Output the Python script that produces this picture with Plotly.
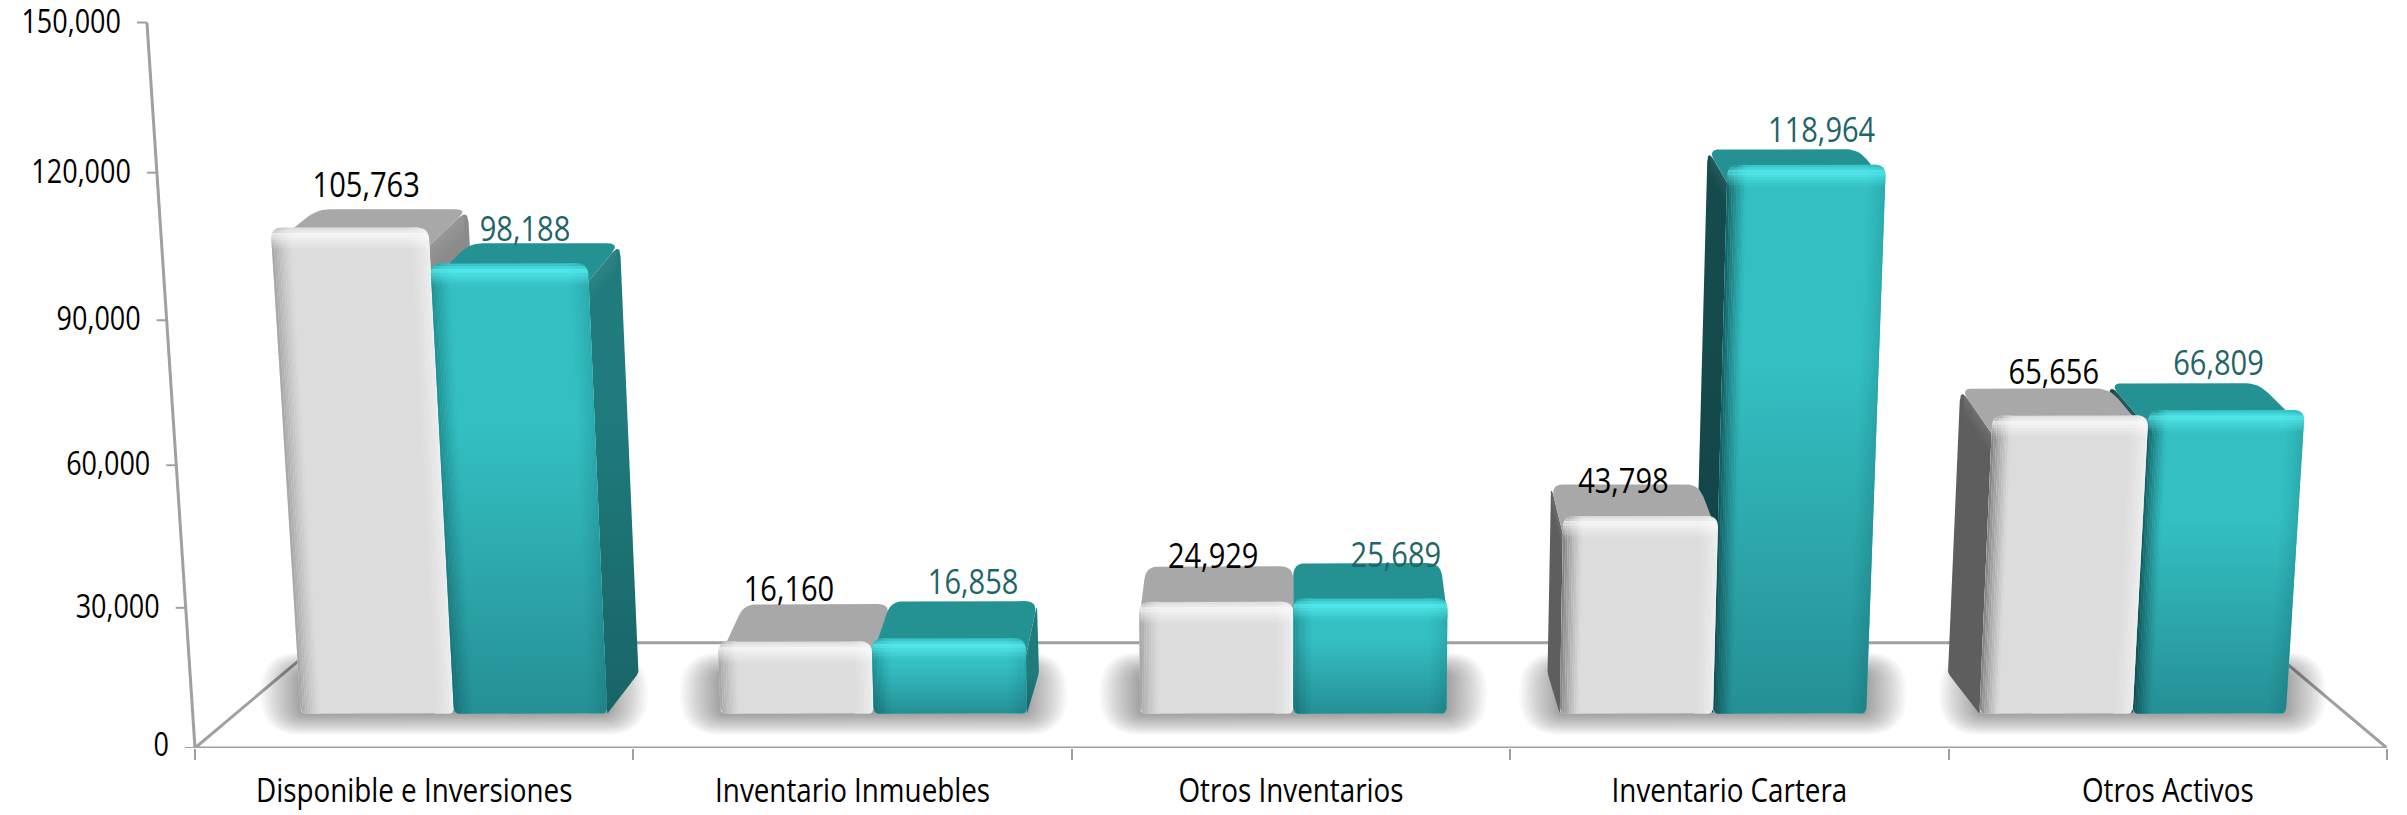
import math
import plotly.graph_objects as go

# ---------- data ----------
categories = ["Disponible e Inversiones", "Inventario Inmuebles", "Otros Inventarios",
              "Inventario Cartera", "Otros Activos"]
series_a = [105763, 16160, 24929, 43798, 65656]
series_b = [98188, 16858, 25689, 118964, 66809]
y_ticks = [0, 30000, 60000, 90000, 120000, 150000]
# label nudges (px) relative to each bar's top
lift_a = [30, 31, 25, 16, 27]
lift_b = [21, 34, 22, 24, 30]
nudge_a = [3, -12, -2, -9, -1]
nudge_b = [5, 21, 29, 26, 10]

# ---------- 3D projection ----------
FONT = "Open Sans, sans-serif"
VMAX = 150000
U, X0PX, Y0PX = 438.4, 195.0, 748.0
CX, VY = 1291.0, -175.0
C, A = 0.042, 695.0
SF, SB = 0.963, 0.919
AXIS = "#a0a0a0"


def P(X, s, V):
    t = V / VMAX
    k = 1 / (1 - C * t)
    x0 = CX + (X - 2.5) * U * k
    y0 = Y0PX - A * t * k
    return (CX + (x0 - CX) * s, VY + (y0 - VY) * s)


def B(X, s, V):
    """Same projection for bars, which sit slightly inside the floor."""
    return P(2.5 + (X - 2.5) * 0.994 + 0.0055, s, V)


def xd(px):
    return (px - X0PX) / U


def yd(py):
    return (Y0PX - py) * VMAX / 726.0


def lerp(a, b, f):
    return (a[0] + (b[0] - a[0]) * f, a[1] + (b[1] - a[1]) * f)


def hex2(c):
    c = c.lstrip("#")
    return tuple(int(c[i:i + 2], 16) for i in (0, 2, 4))


def mix(c1, c2, f):
    a, b = hex2(c1), hex2(c2)
    return "rgb(%d,%d,%d)" % tuple(round(a[i] + (b[i] - a[i]) * f) for i in range(3))


def rounded(pts, radii):
    out = []
    n = len(pts)
    for i, p in enumerate(pts):
        r = radii[i] if isinstance(radii, (list, tuple)) else radii
        a, b = pts[i - 1], pts[(i + 1) % n]
        la = math.dist(p, a) or 1
        lb = math.dist(p, b) or 1
        ra = min(r, la / 2) / la
        rb = min(r, lb / 2) / lb
        s, e = lerp(p, a, ra), lerp(p, b, rb)
        for j in range(7):
            f = j / 6
            q = lerp(lerp(s, p, f), lerp(p, e, f), f)
            out.append(q)
    return out


fig = go.Figure()


def poly(pts, color=None, grad=None):
    kw = dict(fillcolor=color) if grad is None else dict(fillgradient=grad)
    fig.add_trace(go.Scatter(
        x=[xd(p[0]) for p in pts] + [xd(pts[0][0])],
        y=[yd(p[1]) for p in pts] + [yd(pts[0][1])],
        mode="lines", line=dict(width=0), fill="toself", hoverinfo="skip",
        showlegend=False, **kw))


def inset(d, r):
    return r - math.sqrt(max(r * r - (r - d) ** 2, 0)) if d < r else 0


def draw_front(a, b, c, d, edge_l, edge_r, mid, bright, dark_alpha):
    W, H = math.dist(a, b), math.dist(a, d)

    def F(u, v):
        return lerp(lerp(a, b, u), lerp(d, c, u), v)
    rt, rb = 11, 6
    poly(rounded([a, b, c, d], [rb, rb, rt, rt]), mid)
    bw, n = 19.0, 8
    for side, edge in ((0, edge_l), (1, edge_r)):
        for i in range(n):
            d0, d1 = i * bw / n, (i + 1) * bw / n
            col = mix(edge, mid, ((i + .5) / n) ** 0.8)
            u0, u1 = d0 / W, d1 / W
            if side:
                u0, u1 = 1 - u0, 1 - u1
            poly([F(u0, inset(d0, rb) / H), F(u1, inset(d1, rb) / H),
                  F(u1, 1 - inset(d1, rt) / H), F(u0, 1 - inset(d0, rt) / H)], col)
    # bright band along the top edge
    bt, m = 23.0, 9
    r, g, bl = hex2(bright)
    for i in range(m):
        d0, d1 = i * bt / m, (i + 1) * bt / m
        f = (i + .5) / m
        alpha = 0.74 * (f / 0.3 if f < 0.3 else (1 - f) / 0.7) ** 1.1
        ul0 = inset(d0, rt) / W
        ul1 = inset(d1, rt) / W
        poly([F(ul1, 1 - d1 / H), F(1 - ul1, 1 - d1 / H), F(1 - ul0, 1 - d0 / H), F(ul0, 1 - d0 / H)],
             "rgba(%d,%d,%d,%.3f)" % (r, g, bl, alpha))
    if dark_alpha:
        top, bot = (c[1] + d[1]) / 2, (a[1] + b[1]) / 2
        poly(rounded([a, b, c, d], [rb, rb, rt, rt]), grad=dict(
            type="vertical", start=yd(bot), stop=yd(top),
            colorscale=[[0, "rgba(0,30,40,%.2f)" % dark_alpha], [0.65, "rgba(0,30,40,0)"], [1, "rgba(0,30,40,0)"]]))


def draw_bar(X0, X1, V, pal, cat):
    fa, fb, fc, fd = B(X0, SF, 0), B(X1, SF, 0), B(X1, SF, V), B(X0, SF, V)
    ba, bb, bc, bd = B(X0, SB, 0), B(X1, SB, 0), B(X1, SB, V), B(X0, SB, V)
    # side face: it runs under the front face, so its rounded corner leaves no notch
    Hf = math.dist(fa, fd)
    low = min(18 / Hf, 0.5)
    if X1 < 2.5 - 1e-6:
        side_pts, sc = [fb, bb, bc, lerp(fc, fb, low)], pal["side_r"]
    elif X0 > 2.5 + 1e-6:
        side_pts, sc = [fa, ba, bd, lerp(fd, fa, low)], pal["side_l"]
    else:
        side_pts = None
    if side_pts:
        shape = rounded(side_pts, [2, 3, 13, 0])
        poly(shape, sc)
        p0, p1, p2, p3 = side_pts
        n = 6
        H = math.dist(p0, p2)
        for i in range(n):
            f0, f1 = i / n, (i + 1) / n
            h0, h1 = min(f0 * 24 / H, .5), min(f1 * 24 / H, .5)
            q = [lerp(p3, p0, h0), lerp(lerp(p2, p3, 0.12), lerp(p1, p0, 0.12), h0),
                 lerp(lerp(p2, p3, 0.12), lerp(p1, p0, 0.12), h1), lerp(p3, p0, h1)]
            poly(q, "rgba(255,255,255,%.3f)" % (pal["side_glow"] * (1 - f0)))
        if pal["dark"]:
            poly(shape, grad=dict(
                type="vertical", start=yd(p0[1]), stop=yd(p3[1]),
                colorscale=[[0, "rgba(0,20,30,0.22)"], [0.7, "rgba(0,20,30,0)"], [1, "rgba(0,20,30,0)"]]))
    # top face, also running under the front face
    poly(rounded([lerp(fd, fa, low), lerp(fc, fb, low), bc, bd], [0, 0, 13, 13]), pal["top"])
    # front face
    el = pal["edge_far_l"] if cat >= 3 else pal["edge_l"]
    draw_front(fa, fb, fc, fd, el, pal["edge_r"], pal["mid"], pal["bright"], pal["dark"])


pal_a = dict(mid="#dcdcdc", top="#a8a8a8", side_r="#8b8b8b", side_l="#5e5e5e", side_glow=0.10,
             edge_l="#a2a2a2", edge_far_l="#7d7d7d", edge_r="#f0f0f0", bright="#ffffff", dark=0)
pal_b = dict(mid="#34c0c3", top="#249193", side_r="#1f7b7c", side_l="#154b4d", side_glow=0.07,
             edge_l="#1f8d90", edge_far_l="#15595c", edge_r="#2aa8ab", bright="#5ff8fb", dark=0.30)

# floor outline behind the bars, front edge included
bl, br = P(0, 0.886, 0), P(5, 0.886, 0)
fl, fr = P(0, 1, 0), P(5, 1, 0)
fig.add_trace(go.Scatter(
    x=[xd(fl[0]), xd(bl[0]), xd(br[0]), xd(fr[0]), xd(fl[0])],
    y=[yd(fl[1]), yd(bl[1]), yd(br[1]), yd(fr[1]), yd(fl[1])],
    mode="lines", line=dict(color=AXIS, width=3), hoverinfo="skip", showlegend=False))

# value axis (slanted by the projection)
ax_x, ax_y = [], []
for v in y_ticks:
    p = P(0, 1, v)
    ax_x += [xd(p[0] - 10), xd(p[0]), None]
    ax_y += [yd(p[1]), yd(p[1]), None]
top = P(0, 1, VMAX)
fig.add_trace(go.Scatter(x=[xd(fl[0]), xd(top[0])], y=[yd(fl[1]), yd(top[1])], mode="lines",
                         line=dict(color=AXIS, width=3), hoverinfo="skip", showlegend=False))
fig.add_trace(go.Scatter(x=ax_x, y=ax_y, mode="lines", line=dict(color=AXIS, width=2),
                         hoverinfo="skip", showlegend=False))
fig.add_trace(go.Scatter(
    x=[xd(P(0, 1, v)[0] - 26) for v in y_ticks],
    y=[yd(P(0, 1, v)[1] + (2 if v else 0)) for v in y_ticks],
    mode="text", text=[f"{v:,}" for v in y_ticks], textposition="middle left", cliponaxis=False,
    textfont=dict(family=FONT, size=32.5, color="#000000"), hoverinfo="skip", showlegend=False))

# soft shadows on the floor
for k in range(5):
    l, r = B(k + 0.135, SF, 0)[0], B(k + 0.865, SF, 0)[0]
    t, b = B(k + .5, SB, 0)[1], B(k + .5, SF, 0)[1]
    for e in range(34, 0, -2):
        ex, ey = e * 1.2, e * 0.62
        poly(rounded([(l - ex, b + ey), (r + ex, b + ey), (r + ex, t - ey), (l - ex, t - ey)], e + 6),
             "rgba(0,0,0,0.024)")

# bars
for k in range(5):
    white = (k + 0.135, k + 0.5, series_a[k], pal_a, k)
    teal = (k + 0.5, k + 0.865, series_b[k], pal_b, k)
    order = (white, teal) if k <= 2 else (teal, white)
    for b in order:
        draw_bar(*b)

# value labels
for vals, lift, nudge, off, col in ((series_a, lift_a, nudge_a, 0.3175, "#000000"),
                                    (series_b, lift_b, nudge_b, 0.6825, "#1f6468")):
    xs, ys = [], []
    for k, v in enumerate(vals):
        p = P(k + off, (SF + SB) / 2, v)
        xs.append(xd(p[0] + nudge[k]))
        ys.append(yd(p[1] - lift[k]))
    fig.add_trace(go.Scatter(x=xs, y=ys, mode="text", text=[f"{v:,}" for v in vals],
                             textposition="middle center",
                             textfont=dict(family=FONT, size=35, color=col),
                             hoverinfo="skip", showlegend=False))

fig.update_layout(
    width=2407, height=815, margin=dict(l=0, r=20, t=0, b=67),
    paper_bgcolor="white", plot_bgcolor="white", showlegend=False,
    xaxis=dict(range=[-X0PX / U, 5], showgrid=False, zeroline=False, showline=False,
               tickvals=[k + .5 for k in range(5)], ticktext=categories, ticks="outside", ticklen=13,
               tickcolor="rgba(0,0,0,0)", tickfont=dict(family=FONT, size=33.5, color="#000000"),
               minor=dict(tickvals=list(range(6)), ticks="outside", ticklen=11, tickcolor=AXIS, tickwidth=2)),
    yaxis=dict(range=[0, 748 * VMAX / 726.0], visible=False),
)
SQUEEZE = """
document.body.style.margin='0';document.documentElement.style.overflow='hidden';
(function squeeze(){
  var ts=document.querySelectorAll('svg text');
  if(!ts.length){setTimeout(squeeze,50);return;}
  ts.forEach(function(t){
    var x=+t.getAttribute('x')||0,y=+t.getAttribute('y')||0,old=t.getAttribute('transform')||'';
    t.setAttribute('transform',old+' translate('+x+','+y+') scale(0.83,1) translate('+(-x)+','+(-y)+')');
  });
})();
"""
fig.write_html("out.html", config=dict(displayModeBar=False), post_script=SQUEEZE)
